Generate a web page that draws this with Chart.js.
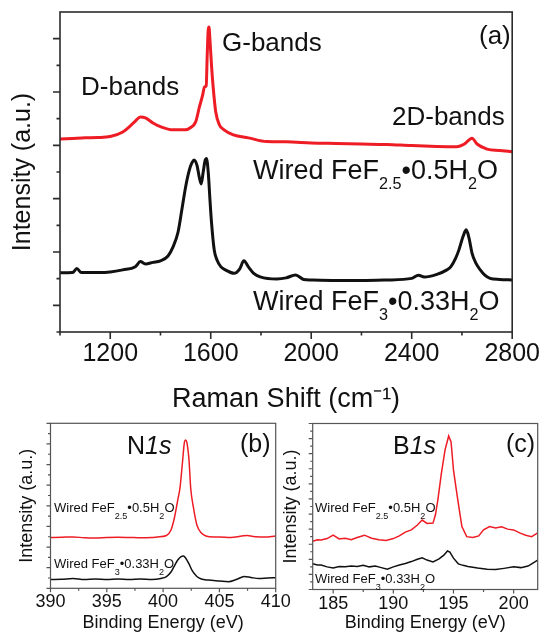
<!DOCTYPE html>
<html><head><meta charset="utf-8">
<script src="https://cdn.jsdelivr.net/npm/chart.js@4.4.1/dist/chart.umd.min.js"></script>
<style>
html,body{margin:0;padding:0;background:#fff;}
#wrap{position:relative;width:547px;height:636px;overflow:hidden;font-family:"Liberation Sans",Arial,sans-serif;color:#111;}
canvas{position:absolute;}
.lbl{position:absolute;white-space:nowrap;line-height:1;}
.big{font-size:26px;}
.wired{font-size:27px;}
.small{font-size:13px;}
.core{font-size:25px;}
.wired sub{font-size:0.6em;vertical-align:-10px;line-height:0;}
.small sub{font-size:0.7em;vertical-align:-7px;line-height:0;}
</style></head>
<body><div id="wrap">
<canvas id="ca" width="547" height="420" style="left:0px;top:0px"></canvas>
<canvas id="cb" width="300" height="226" style="left:0px;top:410px"></canvas>
<canvas id="cc" width="267" height="226" style="left:280px;top:410px"></canvas>

<div class="lbl big" style="left:479px;top:22px">(a)</div>
<div class="lbl big" style="left:81px;top:73px">D-bands</div>
<div class="lbl big" style="left:222px;top:29px">G-bands</div>
<div class="lbl big" style="left:392px;top:103px">2D-bands</div>
<div class="lbl wired" style="left:253px;top:157px">Wired FeF<sub>2.5</sub>•0.5H<sub>2</sub>O</div>
<div class="lbl wired" style="left:253px;top:288px">Wired FeF<sub>3</sub>•0.33H<sub>2</sub>O</div>

<div class="lbl core" style="left:127px;top:433px">N<i>1s</i></div>
<div class="lbl core" style="left:240px;top:431px">(b)</div>
<div class="lbl small" style="left:54px;top:501px">Wired FeF<sub>2.5</sub>•0.5H<sub>2</sub>O</div>
<div class="lbl small" style="left:54px;top:557px">Wired FeF<sub>3</sub>•0.33H<sub>2</sub>O</div>

<div class="lbl core" style="left:393px;top:433px">B<i>1s</i></div>
<div class="lbl core" style="left:506px;top:431px">(c)</div>
<div class="lbl small" style="left:315px;top:501px">Wired FeF<sub>2.5</sub>•0.5H<sub>2</sub>O</div>
<div class="lbl small" style="left:315px;top:572px">Wired FeF<sub>3</sub>•0.33H<sub>2</sub>O</div>
</div>
<script>
// ---------- Panel (a): Raman ----------
const ramanTickLabels = [1200, 1600, 2000, 2400, 2800];
const ramanMinorTicks = [1000, 1400, 1800, 2200, 2600];
const ramanYMajorTicks = [1, 3, 5, 7, 9, 11];
const ramanYMinorTicks = [0, 2, 4, 6, 8, 10];

const ramanRedX = [1000,1050,1100,1150,1200,1250,1280,1300,1320,1340,1370,1400,1450,1500,1520,1540,1555,1568,1575,1582,1586,1590,1593,1597,1603,1610,1620,1635,1653,1690,1750,1823,1900,2000,2100,2200,2300,2400,2500,2580,2610,2640,2660,2700,2750,2800];
const ramanRedY = [7.24,7.26,7.28,7.29,7.33,7.50,7.73,7.91,8.06,8.03,7.84,7.70,7.58,7.58,7.67,7.88,8.44,8.89,9.19,9.23,10.39,11.33,11.44,10.95,10.01,9.15,8.25,7.76,7.58,7.39,7.28,7.14,7.13,7.09,7.07,7.05,7.03,6.99,6.96,6.95,7.05,7.27,7.05,6.86,6.81,6.76];

const ramanBlackX = [1000,1050,1067,1085,1150,1200,1250,1300,1320,1340,1370,1400,1430,1450,1470,1485,1500,1515,1525,1533,1545,1555,1562,1570,1578,1583,1590,1597,1603,1614,1625,1640,1660,1693,1715,1732,1750,1771,1797,1863,1900,1938,1970,2000,2100,2200,2300,2400,2427,2450,2500,2540,2556,2575,2588,2605,2617,2628,2640,2655,2673,2690,2712,2750,2800];
const ramanBlackY = [2.22,2.23,2.38,2.23,2.23,2.25,2.33,2.45,2.64,2.55,2.61,2.67,2.85,3.19,3.75,4.58,5.44,6.08,6.34,6.45,6.26,5.78,5.55,6.0,6.45,6.51,6.0,4.95,4.12,3.07,2.7,2.45,2.32,2.2,2.36,2.67,2.44,2.2,2.07,1.99,2.03,2.14,1.97,1.95,1.93,1.93,1.95,2.01,2.13,2.06,2.16,2.33,2.45,2.77,3.08,3.6,3.83,3.53,2.96,2.59,2.33,2.14,2.01,1.97,1.95];

// ---------- Panel (b): N 1s ----------
const n1sTickLabels = [390, 395, 400, 405, 410];
const n1sMinorTicks = [392.5, 397.5, 402.5, 407.5];
const n1sYMajorTicks = [0, 2, 4, 6, 8, 10, 12, 14, 16];
const n1sYMinorTicks = [1, 3, 5, 7, 9, 11, 13, 15];

const n1sRedX = [390,391,392,393,394,395,396,397,398,399,399.5,400.3,400.7,401.0,401.3,401.5,401.7,401.9,402.0,402.1,402.3,402.45,402.7,403.0,403.4,403.8,404.5,405,406,407,407.5,408,409,410];
const n1sRedY = [4.93,4.95,4.98,4.9,4.88,4.93,4.95,4.93,4.9,4.93,4.98,5.12,5.65,6.82,8.56,9.73,11.96,14.19,14.38,14.19,12.45,9.73,7.79,6.14,5.36,5.07,4.98,4.98,4.93,5.07,5.12,5.02,4.98,5.07];

const n1sBlackX = [390,391,392,393,394,395,396,397,398,399,399.8,400.3,400.7,401.0,401.3,401.6,401.8,402.0,402.3,402.6,403.0,403.4,404,405,405.8,406.5,407.2,407.8,408.5,409.3,410];
const n1sBlackY = [0.85,0.87,0.95,0.85,0.9,0.85,0.9,0.85,0.9,0.85,0.95,1.14,1.58,2.16,2.74,3.08,3.13,2.94,2.36,1.68,1.14,0.9,0.8,0.71,0.64,0.85,1.14,1.05,0.95,1.0,1.03];

// ---------- Panel (c): B 1s ----------
const b1sTickLabels = [185, 190, 195, 200];
const b1sMinorTicks = [187.5, 192.5, 197.5];
const b1sYMajorTicks = [0, 2, 4, 6, 8, 10, 12, 14, 16, 18, 20, 22];
const b1sYMinorTicks = [1, 3, 5, 7, 9, 11, 13, 15, 17, 19, 21];

const b1sRedX = [183.3,183.7,184.0,184.5,185.0,185.5,186.0,186.5,187.0,187.6,188.2,188.8,189.4,190.0,190.5,191.0,191.5,192.0,192.4,192.8,193.3,193.5,193.7,194.0,194.3,194.6,194.8,195.0,195.2,195.4,195.7,196.1,196.6,197.1,197.5,198.0,198.5,199.0,199.5,200.0,200.5,201.0,201.5,202.0];
const b1sRedY = [6.4,6.6,6.55,6.75,7.2,6.7,6.8,6.6,6.9,7.2,6.8,6.6,6.5,6.75,7.1,7.6,7.9,8.55,9.2,8.75,8.8,9.9,11.85,15.45,18.5,20.35,19.55,15.85,13.6,11.45,8.35,7.0,6.9,7.1,7.9,8.35,8.15,8.3,8.0,7.9,7.5,7.2,7.0,7.5];

const b1sBlackX = [183.3,183.7,184.0,184.5,185.0,185.5,186.0,186.5,187.0,187.5,188.0,188.5,189.0,189.5,190.0,190.5,191.0,191.5,192.0,192.4,192.8,193.3,193.8,194.2,194.5,194.7,195.0,195.4,195.8,196.2,197.0,197.8,198.5,199.2,200.0,200.6,201.2,201.6,202.0];
const b1sBlackY = [3.4,3.25,3.25,3.0,2.85,3.05,3.0,3.1,3.05,3.2,3.0,3.1,2.9,2.7,3.0,3.25,3.45,3.7,4.0,4.2,3.9,3.65,4.05,4.55,5.1,4.95,4.15,3.4,3.2,3.05,2.85,2.7,2.65,2.8,3.0,2.9,3.1,3.5,3.9];

// ---------- Rendering ----------
const RED = '#ee1c24';
const BLACK = '#111111';
Chart.defaults.font.family = '"Liberation Sans", Arial, sans-serif';
Chart.defaults.color = '#111';

const pts = (xs, ys) => xs.map((x, i) => ({x: x, y: ys[i]}));

const frameTicks = {
  id: 'frameTicks',
  afterDatasetsDraw(chart, args, o) {
    const ctx = chart.ctx, a = chart.chartArea;
    const sx = chart.scales.x, sy = chart.scales.y;
    ctx.save();
    ctx.strokeStyle = o.color;
    ctx.lineWidth = o.width;
    ctx.beginPath();
    o.xMajor.forEach(v => { const p = sx.getPixelForValue(v); ctx.moveTo(p, a.bottom); ctx.lineTo(p, a.bottom + o.major); });
    o.xMinor.forEach(v => { const p = sx.getPixelForValue(v); ctx.moveTo(p, a.bottom); ctx.lineTo(p, a.bottom + o.minor); });
    o.yMajor.forEach(v => { const p = sy.getPixelForValue(v); ctx.moveTo(a.left, p); ctx.lineTo(a.left - o.major, p); });
    o.yMinor.forEach(v => { const p = sy.getPixelForValue(v); ctx.moveTo(a.left, p); ctx.lineTo(a.left - o.minor, p); });
    ctx.stroke();
    ctx.strokeRect(a.left, a.top, a.right - a.left, a.bottom - a.top);
    ctx.restore();
  }
};

function makePanel(id, p) {
  return new Chart(document.getElementById(id), {
    type: 'line',
    data: {
      datasets: [
        {data: pts(p.redX, p.redY), borderColor: RED, borderWidth: p.lw, pointRadius: 0, fill: false,
         tension: p.tension, cubicInterpolationMode: p.mono ? 'monotone' : 'default'},
        {data: pts(p.blackX, p.blackY), borderColor: BLACK, borderWidth: p.lw, pointRadius: 0, fill: false,
         tension: p.tension, cubicInterpolationMode: p.mono ? 'monotone' : 'default'}
      ]
    },
    options: {
      responsive: false, animation: false, devicePixelRatio: 1,
      layout: {padding: p.padding},
      plugins: {
        legend: {display: false}, tooltip: {enabled: false},
        frameTicks: {color: p.frameColor, width: p.frameWidth, major: p.major, minor: p.minor,
          xMajor: p.xTicks, xMinor: p.xMinor, yMajor: p.yMajor, yMinor: p.yMinor}
      },
      scales: {
        x: {
          type: 'linear', min: p.xMin, max: p.xMax,
          grid: {display: false, drawTicks: false}, border: {display: false},
          afterBuildTicks: s => { s.ticks = p.xTicks.map(v => ({value: v})); },
          afterFit: s => { s.height = p.xHeight; },
          ticks: {font: {size: p.tickSize}, padding: p.tickPad, color: '#111', maxRotation: 0, autoSkip: false,
                  callback: v => String(v)},
          title: {display: true, text: p.xTitle, font: {size: p.xTitleSize}, color: '#111',
                  padding: {top: 0, bottom: p.xTitlePad}}
        },
        y: {
          type: 'linear', min: p.yMin, max: p.yMax,
          grid: {display: false, drawTicks: false}, border: {display: false},
          ticks: {display: false},
          afterFit: s => { s.width = p.yWidth; },
          title: {display: true, text: 'Intensity (a.u.)', font: {size: p.yTitleSize}, color: '#111',
                  padding: {top: p.yTitlePad, bottom: 0}}
        }
      }
    },
    plugins: [frameTicks]
  });
}

makePanel('ca', {
  redX: ramanRedX, redY: ramanRedY, blackX: ramanBlackX, blackY: ramanBlackY,
  lw: 3, tension: 0.4, mono: true,
  padding: {top: 12, right: 29, left: 0, bottom: 0},
  frameColor: '#2b2b2b', frameWidth: 1.6, major: 7, minor: 3.5,
  xTicks: ramanTickLabels, xMinor: ramanMinorTicks, yMajor: ramanYMajorTicks, yMinor: ramanYMinorTicks,
  xMin: 1000, xMax: 2800, yMin: 0, yMax: 12,
  xHeight: 88, tickSize: 25, tickPad: 7, xTitle: 'Raman Shift (cm⁻¹)', xTitleSize: 27, xTitlePad: 4,
  yWidth: 60, yTitleSize: 25, yTitlePad: 8
});

makePanel('cb', {
  redX: n1sRedX, redY: n1sRedY, blackX: n1sBlackX, blackY: n1sBlackY,
  lw: 1.5, tension: 0.4, mono: true,
  padding: {top: 13.3, right: 24.3, left: 0, bottom: 0},
  frameColor: '#555', frameWidth: 1.2, major: 4, minor: 2.5,
  xTicks: n1sTickLabels, xMinor: n1sMinorTicks, yMajor: n1sYMajorTicks, yMinor: n1sYMinorTicks,
  xMin: 390, xMax: 410, yMin: 0, yMax: 16,
  xHeight: 47.7, tickSize: 18, tickPad: 3, xTitle: 'Binding Energy (eV)', xTitleSize: 18, xTitlePad: 2,
  yWidth: 50.5, yTitleSize: 18, yTitlePad: 16
});

makePanel('cc', {
  redX: b1sRedX, redY: b1sRedY, blackX: b1sBlackX, blackY: b1sBlackY,
  lw: 1.5, tension: 0, mono: false,
  padding: {top: 13.5, right: 9.3, left: 0, bottom: 0},
  frameColor: '#555', frameWidth: 1.2, major: 4, minor: 2.5,
  xTicks: b1sTickLabels, xMinor: b1sMinorTicks, yMajor: b1sYMajorTicks, yMinor: b1sYMinorTicks,
  xMin: 183.3, xMax: 202, yMin: 0, yMax: 22,
  xHeight: 46.5, tickSize: 18, tickPad: 4, xTitle: 'Binding Energy (eV)', xTitleSize: 18, xTitlePad: 2,
  yWidth: 32.7, yTitleSize: 18, yTitlePad: 0
});
</script>
</body></html>
